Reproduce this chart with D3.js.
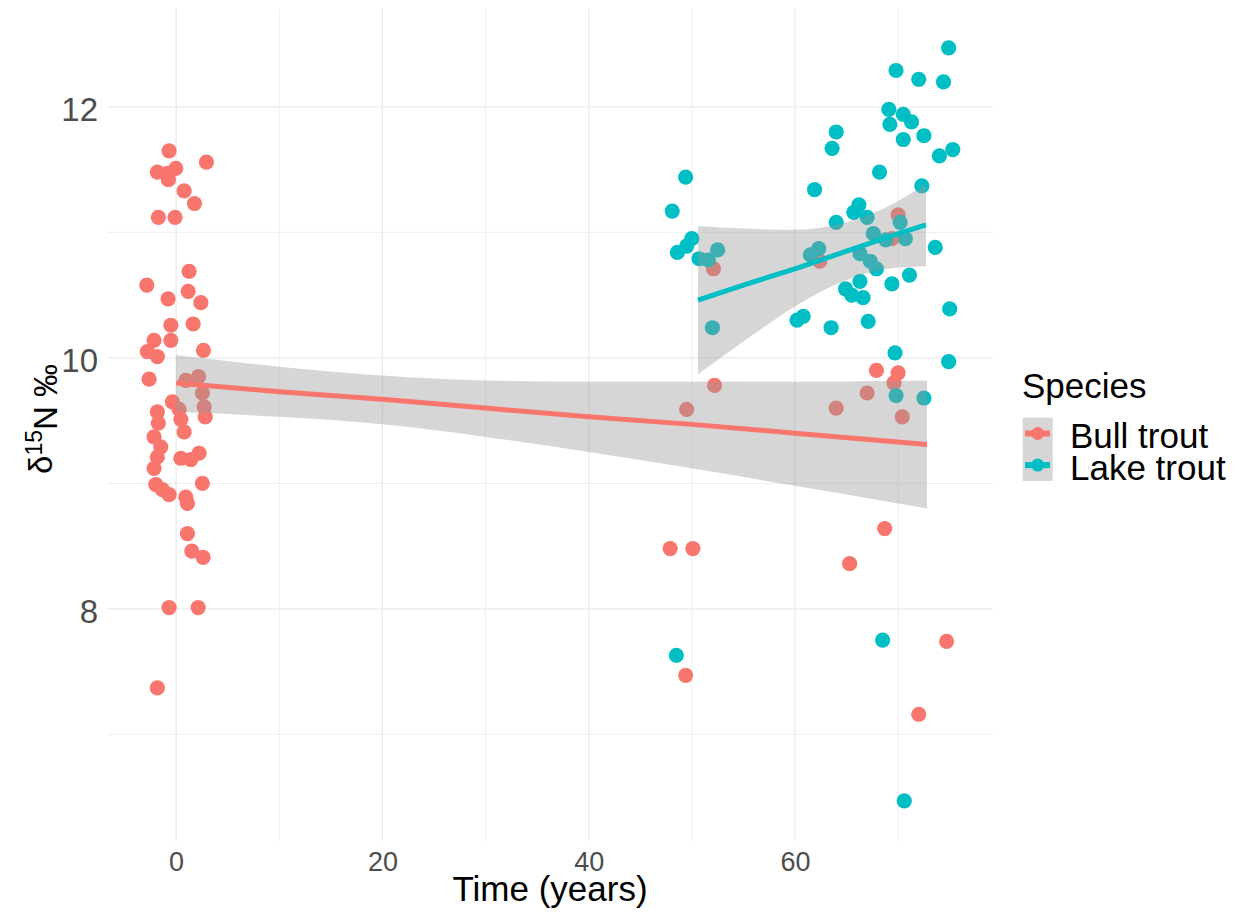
<!DOCTYPE html>
<html><head><meta charset="utf-8">
<script src="https://cdn.jsdelivr.net/npm/d3@7/dist/d3.min.js"></script>
<style>
body{margin:0;background:#fff;}
text{font-family:"Liberation Sans",Arial,sans-serif;}
</style>
</head><body>
<svg id="chart" width="1248" height="913"></svg>
<script>
// ---- data (time is jittered as in the original) ----
const bullTime = [-0.68,2.94,-1.82,-0.84,-0.03,-0.75,0.78,1.78,-1.72,-0.10,1.26,-2.84,1.17,-0.78,2.40,-0.51,1.65,-2.14,-0.51,-2.79,-1.82,2.65,-2.62,0.94,2.17,2.55,2.72,2.82,-0.36,0.29,0.46,0.78,-1.82,-1.72,-2.14,-1.49,-1.82,-2.14,0.46,2.23,1.43,2.55,-1.97,-1.33,-0.68,0.94,1.10,1.10,1.52,2.62,-0.68,2.14,-1.82,
  52.1,52.2,49.5,47.9,50.1,49.4,68.7,65.3,74.7,72.0,70.0,69.4,62.4,67.9,70.0,69.6,67.0,64.0,70.4];
const bullN = [11.65,11.56,11.48,11.47,11.51,11.42,11.33,11.23,11.12,11.12,10.69,10.58,10.53,10.47,10.44,10.26,10.27,10.14,10.14,10.05,10.01,10.06,9.83,9.82,9.85,9.72,9.61,9.53,9.65,9.59,9.51,9.41,9.57,9.48,9.37,9.29,9.21,9.12,9.20,9.24,9.19,9.00,8.99,8.95,8.91,8.89,8.84,8.60,8.46,8.41,8.01,8.01,7.37,
  10.71,9.78,9.59,8.48,8.48,7.47,8.64,8.36,7.74,7.16,11.14,10.95,10.77,9.90,9.88,9.80,9.72,9.60,9.53];
const lakeTime = [49.4,48.1,50.0,49.5,48.6,52.5,50.7,51.6,52.0,48.5,68.5,70.6,74.9,69.8,72.0,74.4,69.1,70.5,71.3,69.2,70.5,72.5,64.0,63.6,74.0,75.3,68.2,61.9,72.3,66.2,65.7,67.0,64.0,70.2,70.7,67.6,68.8,62.3,61.5,66.3,67.3,67.9,73.6,71.1,69.4,66.3,64.9,65.5,66.6,75.0,60.8,60.2,63.5,67.1,69.7,74.9,69.8,72.5];
const lakeN = [11.44,11.17,10.95,10.89,10.84,10.86,10.79,10.78,10.24,7.63,7.75,6.47,12.47,12.29,12.22,12.20,11.98,11.94,11.88,11.86,11.74,11.77,11.80,11.67,11.61,11.66,11.48,11.34,11.37,11.22,11.16,11.12,11.08,11.08,10.95,10.99,10.94,10.87,10.82,10.83,10.77,10.71,10.88,10.66,10.59,10.61,10.55,10.50,10.48,10.39,10.33,10.30,10.24,10.29,10.04,9.97,9.70,9.68];

// linear fits with 95% CI
const bullFitTime = [0,10,20,30,40,50,60,72.8];
const bullFit     = [9.80,9.73,9.67,9.60,9.53,9.47,9.40,9.31];
const bullUpper   = [10.02,9.93,9.86,9.82,9.81,9.81,9.81,9.82];
const bullLower   = [9.57,9.53,9.47,9.37,9.25,9.12,8.98,8.80];
const lakeFitTime = [50.6,55,60,65,70,72.7];
const lakeFit     = [10.46,10.58,10.71,10.85,10.99,11.06];
const lakeUpper   = [11.05,11.03,11.02,11.08,11.25,11.39];
const lakeLower   = [9.87,10.13,10.41,10.62,10.72,10.73];

const species = ["Bull trout","Lake trout"];
const speciesColors = ["#F8766D","#00BFC4"];
const xMajor = [0,20,40,60], xMinor = [10,30,50,70];
const yMajor = [8,10,12], yMinor = [7,9,11];

// ---- layout ----
const svg = d3.select("#chart");
const P = {l:107, r:993, t:9, b:841};
const x = d3.scaleLinear().domain([-6.7,79.2]).range([P.l,P.r]);
const y = d3.scaleLinear().domain([6.15,12.78]).range([P.b,P.t]);
const color = d3.scaleOrdinal().domain(species).range(speciesColors);

// grid
const g = svg.append("g");
g.selectAll(".xmin").data(xMinor).join("line")
  .attr("x1",d=>x(d)).attr("x2",d=>x(d)).attr("y1",P.t).attr("y2",P.b)
  .attr("stroke","#EBEBEB").attr("stroke-width",0.8);
g.selectAll(".ymin").data(yMinor).join("line")
  .attr("y1",d=>y(d)).attr("y2",d=>y(d)).attr("x1",P.l).attr("x2",P.r)
  .attr("stroke","#EBEBEB").attr("stroke-width",0.8);
g.selectAll(".xmaj").data(xMajor).join("line")
  .attr("x1",d=>x(d)).attr("x2",d=>x(d)).attr("y1",P.t).attr("y2",P.b)
  .attr("stroke","#EBEBEB").attr("stroke-width",1.4);
g.selectAll(".ymaj").data(yMajor).join("line")
  .attr("y1",d=>y(d)).attr("y2",d=>y(d)).attr("x1",P.l).attr("x2",P.r)
  .attr("stroke","#EBEBEB").attr("stroke-width",1.4);

// points
const pts = [];
bullTime.forEach((t,i)=>pts.push({t, v:bullN[i], s:"Bull trout"}));
lakeTime.forEach((t,i)=>pts.push({t, v:lakeN[i], s:"Lake trout"}));
svg.append("g").selectAll("circle").data(pts).join("circle")
  .attr("cx",d=>x(d.t)).attr("cy",d=>y(d.v)).attr("r",7.6)
  .attr("fill",d=>color(d.s));

// smooths
const fits = [
  {s:"Bull trout", t:bullFitTime, f:bullFit, lo:bullLower, hi:bullUpper},
  {s:"Lake trout", t:lakeFitTime, f:lakeFit, lo:lakeLower, hi:lakeUpper}
];
const area = d3.area().x(d=>x(d.t)).y0(d=>y(d.lo)).y1(d=>y(d.hi)).curve(d3.curveMonotoneX);
const line = d3.line().x(d=>x(d.t)).y(d=>y(d.f));
fits.forEach(F=>{
  const rows = F.t.map((t,i)=>({t, f:F.f[i], lo:F.lo[i], hi:F.hi[i]}));
  svg.append("path").datum(rows).attr("d",area).attr("fill","rgba(153,153,153,0.4)");
  svg.append("path").datum(rows).attr("d",line).attr("fill","none")
    .attr("stroke",color(F.s)).attr("stroke-width",5);
});

// axes
const xa = svg.append("g").attr("transform",`translate(0,${P.b})`)
  .call(d3.axisBottom(x).tickValues(xMajor).tickFormat(d3.format("d")).tickSize(0).tickPadding(11));
xa.select(".domain").remove();
xa.selectAll("text").attr("fill","#4D4D4D").style("font-size","27px");
const ya = svg.append("g").attr("transform",`translate(${P.l},0)`)
  .call(d3.axisLeft(y).tickValues(yMajor).tickFormat(d3.format("d")).tickSize(0).tickPadding(9));
ya.select(".domain").remove();
ya.selectAll("text").attr("fill","#4D4D4D").style("font-size","33px").attr("dy","0.42em");

// axis titles
svg.append("text").attr("x",(P.l+P.r)/2).attr("y",901).attr("text-anchor","middle")
  .style("font-size","35px").attr("fill","#000").text("Time (years)");
const yt = svg.append("text").attr("transform",`translate(52,${(P.t+P.b)/2 - 6}) rotate(-90)`)
  .attr("text-anchor","middle").style("font-size","33px").attr("fill","#000");
yt.append("tspan").text("δ");
yt.append("tspan").attr("dy","-0.45em").style("font-size","23px").text("15");
yt.append("tspan").attr("dy","0.45em").text("N ‰");

// legend
const L = svg.append("g");
L.append("text").attr("x",1022).attr("y",398).style("font-size","35px").attr("fill","#000").text("Species");
species.forEach((s,i)=>{
  const ky = 417.7 + i*31.6;
  L.append("rect").attr("x",1022.7).attr("y",ky).attr("width",30).attr("height",31.6)
    .attr("fill","rgba(153,153,153,0.4)");
  L.append("line").attr("x1",1025).attr("x2",1050).attr("y1",ky+15.8).attr("y2",ky+15.8)
    .attr("stroke",color(s)).attr("stroke-width",6);
  L.append("circle").attr("cx",1037.7).attr("cy",ky+15.8).attr("r",6.5).attr("fill",color(s));
  L.append("text").attr("x",1070).attr("y",ky+30.5).style("font-size","35px").attr("fill","#000").text(s);
});
</script>
</body></html>
